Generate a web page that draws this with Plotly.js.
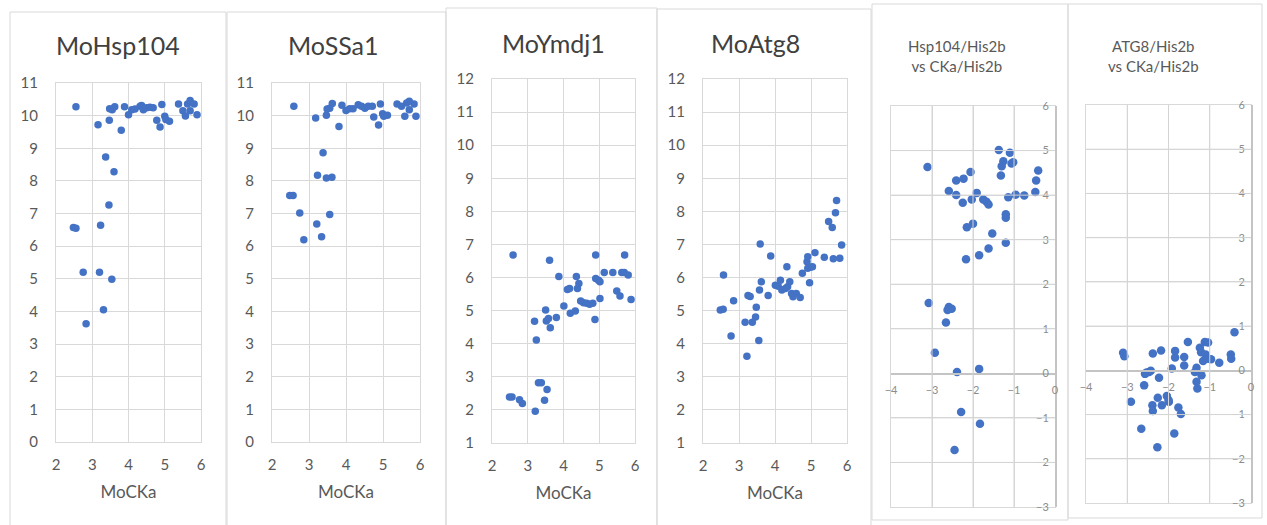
<!DOCTYPE html>
<html>
<head>
<meta charset="utf-8">
<script src="https://cdn.plot.ly/plotly-3.0.1.min.js"></script>
<style>html,body{margin:0;padding:0;background:#fff;}#chart{width:1267px;height:525px;}</style>
</head>
<body>
<div id="chart"></div>
<script>
// ---------- data ----------
const panelTitles = ["MoHsp104", "MoSSa1", "MoYmdj1", "MoAtg8", "Hsp104/His2b<br>vs CKa/His2b", "ATG8/His2b<br>vs CKa/His2b"];
const xTitle = "MoCKa";

const hspX = [2.55,2.48,2.55,2.75,2.83,3.16,3.20,3.23,3.31,3.37,3.46,3.47,3.48,3.54,3.55,3.60,3.62,3.80,3.89,4.00,4.09,4.18,4.32,4.36,4.41,4.50,4.59,4.68,4.78,4.87,4.92,5.00,5.03,5.13,5.38,5.50,5.57,5.63,5.70,5.70,5.81,5.89];
const hspY = [10.27,6.57,6.55,5.20,3.62,9.72,5.20,6.64,4.05,8.73,7.26,9.86,10.21,4.99,10.18,8.28,10.27,9.55,10.27,10.03,10.18,10.20,10.29,10.31,10.18,10.24,10.26,10.24,9.86,9.65,10.34,9.98,9.88,9.83,10.36,10.15,9.99,10.36,10.46,10.15,10.36,10.03];

const ssaX = [2.59,2.48,2.57,2.75,2.86,3.18,3.23,3.21,3.34,3.38,3.47,3.47,3.49,3.56,3.56,3.62,3.63,3.81,3.89,4.00,4.10,4.19,4.33,4.42,4.51,4.60,4.71,4.75,4.88,4.93,4.99,5.02,5.12,5.38,5.50,5.59,5.64,5.71,5.71,5.84,5.89];
const ssaY = [10.29,7.55,7.55,7.02,6.20,9.93,8.17,6.68,6.29,8.86,8.09,10.01,10.20,10.23,6.97,8.11,10.37,9.67,10.32,10.16,10.21,10.21,10.33,10.29,10.23,10.29,10.29,9.96,9.71,10.36,10.06,9.98,10.01,10.36,10.29,9.98,10.39,10.44,10.18,10.36,9.98];

const ymdX = [2.59,2.49,2.56,2.77,2.85,3.19,3.24,3.21,3.30,3.38,3.47,3.50,3.52,3.54,3.58,3.63,3.61,3.80,3.87,4.01,4.11,4.17,4.19,4.33,4.36,4.39,4.43,4.48,4.56,4.65,4.73,4.82,4.88,4.90,4.90,4.98,5.02,5.02,5.14,5.38,5.49,5.58,5.63,5.70,5.71,5.81,5.89];
const ymdY = [6.68,2.39,2.39,2.31,2.19,4.68,4.11,1.96,2.82,2.82,2.29,5.02,4.69,2.62,4.76,4.48,6.52,4.79,6.03,5.14,5.64,5.67,4.92,4.99,6.03,5.67,5.82,5.29,5.24,5.22,5.19,5.22,4.73,6.68,5.97,5.92,5.87,5.37,6.15,6.15,5.59,5.44,6.15,6.15,6.68,6.08,5.34];

const atgX = [2.57,2.48,2.56,2.78,2.85,3.17,3.22,3.25,3.31,3.37,3.46,3.48,3.55,3.57,3.59,3.62,3.81,3.88,4.01,4.09,4.15,4.19,4.29,4.33,4.35,4.41,4.46,4.50,4.59,4.70,4.76,4.89,4.91,4.91,4.96,4.98,5.04,5.11,5.37,5.49,5.59,5.62,5.68,5.71,5.80,5.85];
const atgY = [6.08,5.02,5.04,4.23,5.30,4.65,3.62,5.46,5.43,4.65,4.81,5.10,4.10,5.62,7.01,5.87,5.46,6.65,5.77,5.74,5.92,5.62,5.67,6.33,5.72,5.87,5.52,5.42,5.52,5.40,6.13,6.48,6.63,6.28,5.84,6.31,6.33,6.75,6.61,7.69,7.51,6.57,7.96,8.33,6.58,6.98];

const hspRatioX = [-3.11,-2.59,-2.41,-2.41,-2.23,-2.25,-2.06,-2.03,-1.91,-2.15,-2.00,-2.17,-1.85,-1.75,-1.67,-1.62,-1.62,-1.53,-1.37,-1.30,-1.26,-1.32,-1.10,-1.06,-1.02,-1.20,-1.20,-1.20,-1.14,-0.96,-0.75,-0.48,-0.46,-0.41,-3.08,-2.59,-2.52,-2.62,-2.66,-2.93,-2.39,-1.85,-2.29,-1.83,-2.45];
const hspRatioY = [4.63,4.09,4.33,4.00,4.37,3.83,4.52,3.90,4.05,3.28,3.36,2.56,2.65,3.90,3.85,3.79,2.80,3.14,5.01,4.65,4.76,4.44,4.95,4.71,4.74,3.57,3.49,2.93,3.95,4.01,3.99,4.07,4.33,4.55,1.58,1.49,1.45,1.42,1.14,0.46,0.03,0.10,-0.87,-1.13,-1.72];

const atgRatioX = [-3.10,-3.07,-2.91,-2.66,-2.59,-2.57,-2.53,-2.47,-2.43,-2.38,-2.39,-2.38,-2.27,-2.26,-2.23,-2.18,-2.16,-2.04,-2.00,-1.99,-1.92,-1.84,-1.84,-1.86,-1.76,-1.70,-1.62,-1.62,-1.53,-1.36,-1.32,-1.32,-1.30,-1.24,-1.21,-1.20,-1.16,-1.12,-1.10,-1.04,-1.04,-0.97,-0.77,-0.49,-0.48,-0.40];
const atgRatioY = [0.40,0.32,-0.71,-1.32,-0.34,-0.08,-0.05,-0.04,-0.01,0.38,-0.79,-0.92,-1.74,-0.62,-0.17,0.45,-0.79,-0.58,-0.67,-0.71,0.04,0.44,0.29,-1.43,-0.84,-0.99,0.30,0.11,0.64,-0.04,0.06,-0.26,-0.41,0.51,0.41,-0.11,0.21,0.64,0.36,0.63,0.26,0.25,0.17,0.36,0.26,0.86];

const xRangeCKa = [2, 6];
const yRanges = [[0, 11], [0, 11], [1, 12], [1, 12], [-3, 6], [-3, 6]];
const xRangeRatio = [-4, 0];

// ---------- layout geometry (pixels) ----------
const W = 1267, H = 525;
const px = v => v / W;
const py = v => 1 - v / H;

const plotBoxes = [
  {x: [56, 201],   y: [83, 442]},
  {x: [272, 420],  y: [83, 442]},
  {x: [492, 635],  y: [79, 443]},
  {x: [703, 847],  y: [79, 443]},
  {x: [891, 1055], y: [106, 507]},
  {x: [1086, 1251],y: [105, 503]}
];
const frames = [
  [10, 226, 12, 540], [227, 446, 12, 540], [446, 657, 8, 540],
  [657, 871, 9, 540], [872, 1068, 4, 520], [1068, 1262, 4, 518]
];
const titlePos = [[118, 45], [333, 45], [553, 43], [755, 43], [957, 56], [1153, 56]];

const FONT = "Lato, 'Open Sans', sans-serif";
const TXT = "#595959";
const GRID = "#d9d9d9";
const BLUE = "#4472C4";
const AXLINE = "#c4c4c4";
const SMALLTXT = "#8c8c8c";

const xs = [hspX, ssaX, ymdX, atgX, hspRatioX, atgRatioX];
const ys = [hspY, ssaY, ymdY, atgY, hspRatioY, atgRatioY];

const data = [];
const layout = {
  width: W, height: H,
  margin: {l: 0, r: 0, t: 0, b: 0},
  showlegend: false,
  font: {family: FONT, color: TXT},
  shapes: [], annotations: []
};

const suf = n => (n === 1 ? "" : String(n));

for (let i = 0; i < 6; i++) {
  const n = i + 1;
  const xa = "x" + suf(n), ya = "y" + suf(n);
  const xk = "xaxis" + suf(n), yk = "yaxis" + suf(n);
  const box = plotBoxes[i];
  const xDom = [px(box.x[0]), px(box.x[1])];
  const yDom = [py(box.y[1]), py(box.y[0])];
  const ratio = i >= 4;

  data.push({
    type: "scatter", mode: "markers", x: xs[i], y: ys[i],
    xaxis: xa, yaxis: ya,
    marker: {color: BLUE, size: ratio ? 8.5 : 7.5}
  });

  if (!ratio) {
    layout[xk] = {
      domain: xDom, anchor: ya, range: xRangeCKa.slice(), tick0: 2, dtick: 1,
      showgrid: true, gridcolor: GRID, zeroline: false,
      showline: true, linecolor: GRID, mirror: true,
      ticks: "", ticklabelstandoff: 9,
      tickfont: {family: FONT, size: 15, color: TXT},
      title: {text: xTitle, font: {family: FONT, size: 17, color: TXT}, standoff: 14}
    };
    layout[yk] = {
      domain: yDom, anchor: xa, range: yRanges[i].slice(), dtick: 1,
      showgrid: true, gridcolor: GRID, zeroline: false,
      showline: true, linecolor: GRID, mirror: true,
      ticks: "", ticklabelstandoff: 14,
      tickfont: {family: FONT, size: 15, color: TXT}
    };
  } else {
    const yr = yRanges[i];
    layout[xk] = {
      domain: xDom, anchor: ya, range: xRangeRatio.slice(), dtick: 1,
      showgrid: true, gridcolor: GRID, zeroline: false,
      showline: true, linecolor: GRID, mirror: true,
      showticklabels: false, ticks: ""
    };
    layout[yk] = {
      domain: yDom, anchor: xa, range: yr.slice(), dtick: 1,
      showgrid: true, gridcolor: GRID, zeroline: false,
      showline: true, linecolor: GRID, mirror: true,
      showticklabels: false, ticks: ""
    };
    // unit grid lines for the ratio panels, placed on the panel's own axes
    for (let v = xRangeRatio[0] + 1; v < xRangeRatio[1]; v++) {
      layout.shapes.push({type: "line", xref: xa, yref: ya + " domain", x0: v, x1: v, y0: 0, y1: 1,
        line: {color: "#d4d4d4", width: 1}, layer: "above"});
    }
    for (let v = yr[0] + 1; v < yr[1]; v++) {
      if (v === 0) continue;
      layout.shapes.push({type: "line", xref: xa + " domain", yref: ya, x0: 0, x1: 1, y0: v, y1: v,
        line: {color: "#d4d4d4", width: 1}, layer: "above"});
    }
    // labelled axes crossing at zero (Excel style)
    const m = n + 2;
    const zeroPos = yDom[0] + (0 - yr[0]) / (yr[1] - yr[0]) * (yDom[1] - yDom[0]);
    layout["xaxis" + m] = {
      overlaying: xa, anchor: "free", position: zeroPos,
      range: xRangeRatio.slice(), dtick: 1, showgrid: false, zeroline: false,
      showline: true, linecolor: AXLINE, linewidth: 1.5,
      ticks: "", ticklabelstandoff: 6,
      tickfont: {family: FONT, size: 11, color: SMALLTXT}
    };
    layout["yaxis" + m] = {
      overlaying: ya, anchor: "free", position: xDom[1], side: "left",
      range: yr.slice(), dtick: 1, showgrid: false, zeroline: false,
      showline: true, linecolor: AXLINE, linewidth: 1.5,
      ticks: "", ticklabelstandoff: 4,
      tickfont: {family: FONT, size: 11, color: SMALLTXT}
    };
    data.push({
      type: "scatter", mode: "markers", x: [], y: [],
      xaxis: "x" + m, yaxis: "y" + m, hoverinfo: "skip"
    });
  }

  const f = frames[i];
  layout.shapes.push({
    type: "rect", xref: "paper", yref: "paper",
    x0: px(f[0]), x1: px(f[1]), y0: py(f[3]), y1: py(f[2]),
    line: {color: "#d9d9d9", width: 1}, layer: "below"
  });

  const tp = titlePos[i];
  layout.annotations.push({
    text: panelTitles[i], xref: "paper", yref: "paper",
    x: px(tp[0]), y: py(tp[1]), xanchor: "center", yanchor: "middle",
    showarrow: false,
    font: ratio ? {family: FONT, size: 15, color: TXT} : {family: FONT, size: 25, color: "#404040"}
  });
}

Plotly.newPlot("chart", data, layout, {displayModeBar: false, staticPlot: true});
</script>
</body>
</html>
